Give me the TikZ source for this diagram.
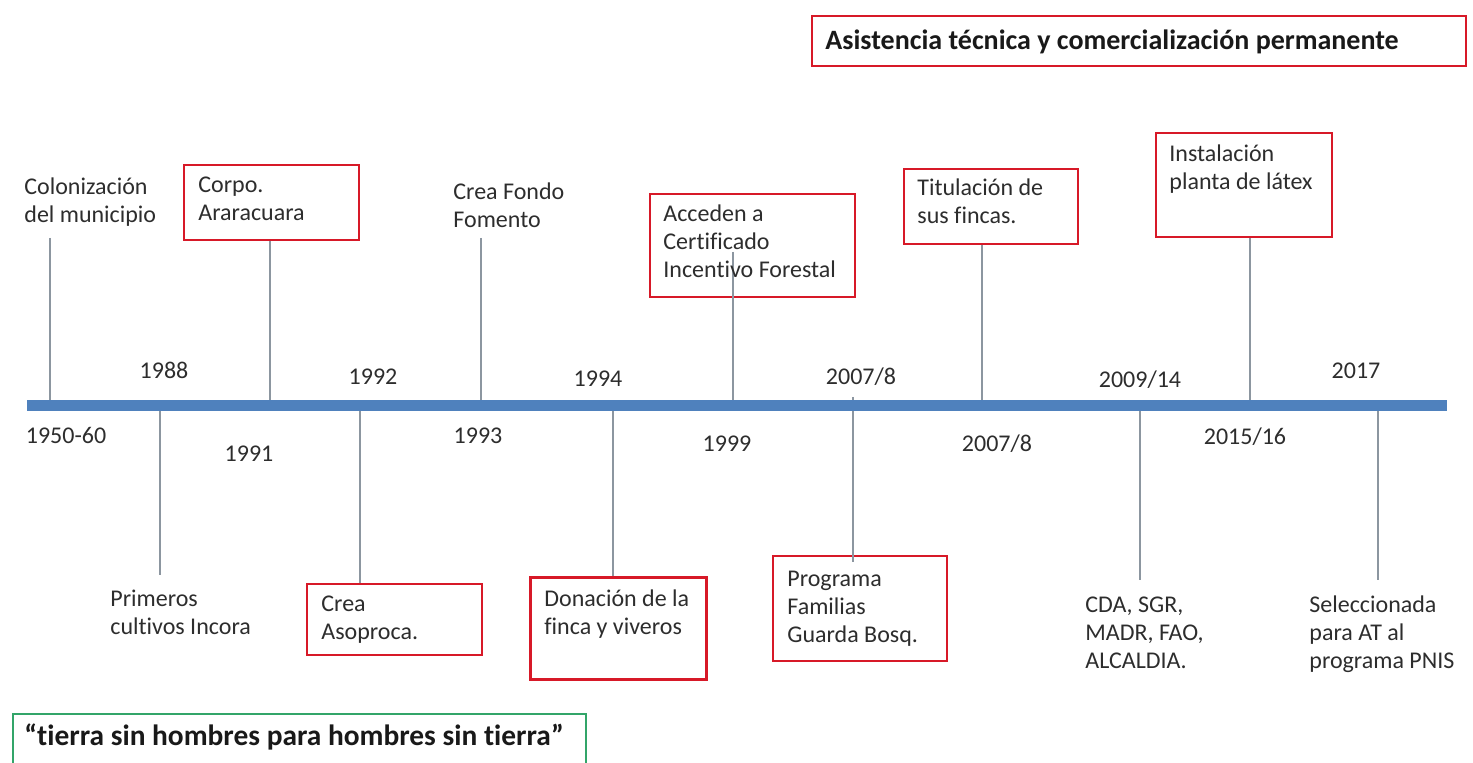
\documentclass[tikz,border=0pt]{standalone}
\usepackage{fontspec}
\setmainfont[Ligatures=NoCommon]{Carlito}
\definecolor{txt}{RGB}{45,45,45}
\definecolor{barblue}{RGB}{79,129,189}
\definecolor{boxred}{RGB}{215,25,40}
\definecolor{tickgray}{RGB}{140,150,160}
\definecolor{boxgreen}{RGB}{50,165,105}
\tikzset{
  lbl/.style={anchor=base west, align=left, inner sep=0pt, text=txt, font=\fontsize{12}{14}\selectfont},
  yr/.style={anchor=base, inner sep=0pt, text=txt, font=\fontsize{12}{14}\selectfont},
  rbox/.style={draw=boxred, line width=1pt, anchor=north west, inner sep=0pt, fill=white},
  gbox/.style={draw=boxgreen, line width=1pt, anchor=north west, inner sep=0pt},
  tick/.style={draw=tickgray, line width=0.6pt},
  bar/.style={draw=barblue, line width=5.5pt}
}
\begin{document}
\begin{tikzpicture}[x=0.5pt, y=-0.5pt]
\useasboundingbox (0,0) rectangle (1473,763);
% time bar
\coordinate (L) at (27,406);
\coordinate (R) at (1447,406);
% bar points
\coordinate (c1) at (50,406);
\coordinate (c2) at (160,406);
\coordinate (c3) at (270,406);
\coordinate (c4) at (360,406);
\coordinate (c5) at (481,406);
\coordinate (c6) at (613,406);
\coordinate (c7) at (733,406);
\coordinate (c8) at (853,397);
\coordinate (c9) at (982,406);
\coordinate (c10) at (1140,406);
\coordinate (c11) at (1250,406);
\coordinate (c12) at (1378,406);
% free tick ends
\coordinate (e1) at (50,238);
\coordinate (e2) at (160,575);
\coordinate (e5) at (481,238);
\coordinate (e7) at (733,252);
\coordinate (e8) at (853,562);
\coordinate (e10) at (1140,580);
\coordinate (e12) at (1378,580);

% boxes
\node[rbox, minimum width=327pt, minimum height=25pt] (btop) at (811,15) {};
\node[rbox, minimum width=87.5pt, minimum height=37.5pt] (b3) at (183,164) {};
\node[rbox, minimum width=102.5pt, minimum height=51.5pt] (b7) at (649,193) {};
\node[rbox, minimum width=87pt, minimum height=37.5pt] (b9) at (903,168) {};
\node[rbox, minimum width=88pt, minimum height=52pt] (b11) at (1155,132) {};
\node[rbox, minimum width=87.5pt, minimum height=35.5pt] (b4) at (306,583) {};
\node[rbox, line width=1.6pt, minimum width=88pt, minimum height=51pt] (b6) at (529,576) {};
\node[rbox, minimum width=87pt, minimum height=52.5pt] (b8) at (772,555) {};
\node[gbox, minimum width=286.5pt, minimum height=32pt] (bg) at (12,713) {};

% ticks
\draw[tick] (e1) -- (c1);
\draw[tick] (c2) -- (e2);
\draw[tick] (c3 |- b3.south) -- (c3);
\draw[tick] (c4) -- (c4 |- b4.north);
\draw[tick] (e5) -- (c5);
\draw[tick] (c6) -- (c6 |- b6.north);
\draw[tick] (e7) -- (c7);
\draw[tick] (c8) -- (e8);
\draw[tick] (c9 |- b9.south) -- (c9);
\draw[tick] (c10) -- (e10);
\draw[tick] (c11 |- b11.south) -- (c11);
\draw[tick] (c12) -- (e12);

% bar
\draw[bar] (L) -- (R);

% texts (anchored at the baseline of the last line)
\node[lbl, font=\fontsize{14}{16}\selectfont\bfseries, text=black!90] (ttop) at (825,50) {Asistencia técnica y comercialización permanente};
\node[lbl] (t1) at (24,223) {Colonización\\del municipio};
\node[lbl] (t3) at (198,221) {Corpo.\\Araracuara};
\node[lbl] (t5) at (453,228) {Crea Fondo\\Fomento};
\node[lbl] (t7) at (663,278) {Acceden a\\Certificado\\Incentivo Forestal};
\node[lbl] (t9) at (917,224) {Titulación de\\sus fincas.};
\node[lbl] (t11) at (1169,190) {Instalación\\planta de látex};
\node[lbl] (t2) at (110,635) {Primeros\\cultivos Incora};
\node[lbl] (t4) at (321,640) {Crea\\Asoproca.};
\node[lbl] (t6) at (544,635) {Donación de la\\finca y viveros};
\node[lbl] (t8) at (787,643) {Programa\\Familias\\Guarda Bosq.};
\node[lbl] (t10) at (1085,669) {CDA, SGR,\\MADR, FAO,\\ALCALDIA.};
\node[lbl] (t12) at (1309,669) {Seleccionada\\para AT al\\programa PNIS};
\node[lbl, font=\fontsize{14.7}{17}\selectfont\bfseries, text=black!90] (tg) at (24,746) {“tierra sin hombres para hombres sin tierra”};

% years
\node[yr] (y2) at (164,379) {1988};
\node[yr] (y4) at (373,385) {1992};
\node[yr] (y6) at (598,387) {1994};
\node[yr] (y8) at (861,385) {2007/8};
\node[yr] (y10) at (1140,388) {2009/14};
\node[yr] (y12) at (1356,379) {2017};
\node[yr] (y1) at (66,444) {1950-60};
\node[yr] (y3) at (249,462) {1991};
\node[yr] (y5) at (478,444) {1993};
\node[yr] (y7) at (727,452) {1999};
\node[yr] (y9) at (997,452) {2007/8};
\node[yr] (y11) at (1245,445) {2015/16};
\end{tikzpicture}
\end{document}
